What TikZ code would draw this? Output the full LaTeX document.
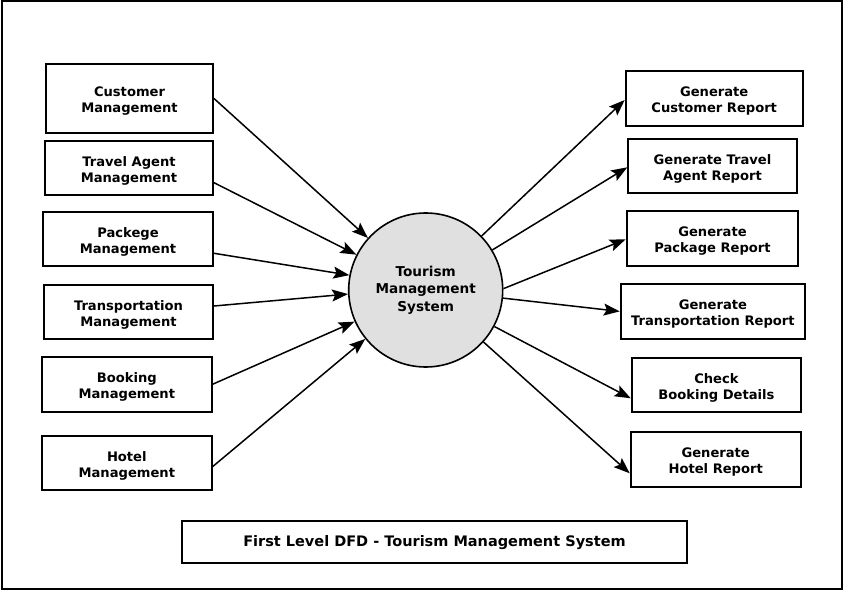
\documentclass[tikz,border=0pt]{standalone}
\usepackage{fontspec}
\setmainfont{DejaVu Sans}
\usetikzlibrary{arrows.meta,calc}
\definecolor{procfill}{HTML}{E0E0E0}
\begin{document}
\begin{tikzpicture}[x=1pt,y=-1pt,
  ent/.style={draw=black,line width=2pt,rectangle,align=center,inner sep=0pt,
    font=\fontsize{13.1}{16}\selectfont\bfseries,text height=31.5pt},
  proc/.style={draw=black,line width=1.6pt,circle,fill=procfill,minimum size=154pt,
    inner sep=0pt,align=center,font=\fontsize{13.6}{17.5}\selectfont\bfseries},
  titlebox/.style={draw=black,line width=2pt,rectangle,align=center,inner sep=0pt,
    font=\fontsize{14.5}{17}\selectfont\bfseries},
  flow/.style={line width=1.5pt,-{Stealth[length=16pt,width=12pt,inset=3pt]}}]
\useasboundingbox (0,0) rectangle (846,593);
\draw[line width=2pt] (1.5,1.5) rectangle (842,589);

\node[proc] (C) at (425.7,290) {Tourism\\Management\\System};

\node[ent,minimum width=167pt,minimum height=69pt] (L1) at (129.5,98.5) {Customer\\Management};
\node[ent,minimum width=168pt,minimum height=54pt] (L2) at (129,168) {Travel Agent\\Management};
\node[ent,minimum width=170pt,minimum height=54pt] (L3) at (128,239) {Packege\\Management};
\node[ent,minimum width=169pt,minimum height=54pt] (L4) at (128.5,312) {Transportation\\Management};
\node[ent,minimum width=169.5pt,minimum height=54.5pt] (L5) at (126.8,384.3) {Booking\\Management};
\node[ent,minimum width=169.5pt,minimum height=54pt] (L6) at (126.8,463) {Hotel\\Management};

\node[ent,minimum width=177pt,minimum height=55pt] (R1) at (714.2,98.2) {Generate\\Customer Report};
\node[ent,minimum width=168.4pt,minimum height=53.7pt] (R2) at (712.5,165.9) {Generate Travel\\Agent Report};
\node[ent,minimum width=171.6pt,minimum height=55.3pt] (R3) at (712.5,238.4) {Generate\\Package Report};
\node[ent,minimum width=184.3pt,minimum height=54.7pt] (R4) at (712.9,311.4) {Generate\\Transportation Report};
\node[ent,minimum width=169.3pt,minimum height=54pt] (R5) at (716.4,384.7) {Check\\Booking Details};
\node[ent,minimum width=170pt,minimum height=54.4pt] (R6) at (715.7,459.5) {Generate\\Hotel Report};

\node[titlebox,minimum width=505pt,minimum height=41.5pt] (T) at (434.5,542.2) {First Level DFD - Tourism Management System};

\draw[flow] (L1.east) -- (C.138);
\draw[flow] ($(L2.east)+(0,14.7)$) -- (C.153);
\draw[flow] ($(L3.east)+(0,14.3)$) -- (C.169);
\draw[flow] ($(L4.east)+(0,-6)$) -- (C.183.6);
\draw[flow] (L5.east) -- (C.204);
\draw[flow] ($(L6.east)+(0,3.7)$) -- (C.219.5);

\draw[flow] (C.44.5) -- ($(R1.west)+(0,1.8)$);
\draw[flow] (C.31.7) -- ($(R2.west)+(0,1.4)$);
\draw[flow] (C.1.4) -- ($(R3.west)+(0,0.9)$);
\draw[flow] (C.-6.8) -- (R4.west);
\draw[flow] (C.-28.9) -- ($(R5.west)+(0,13.6)$);
\draw[flow] (C.-42) -- ($(R6.west)+(0,13.8)$);
\end{tikzpicture}
\end{document}
